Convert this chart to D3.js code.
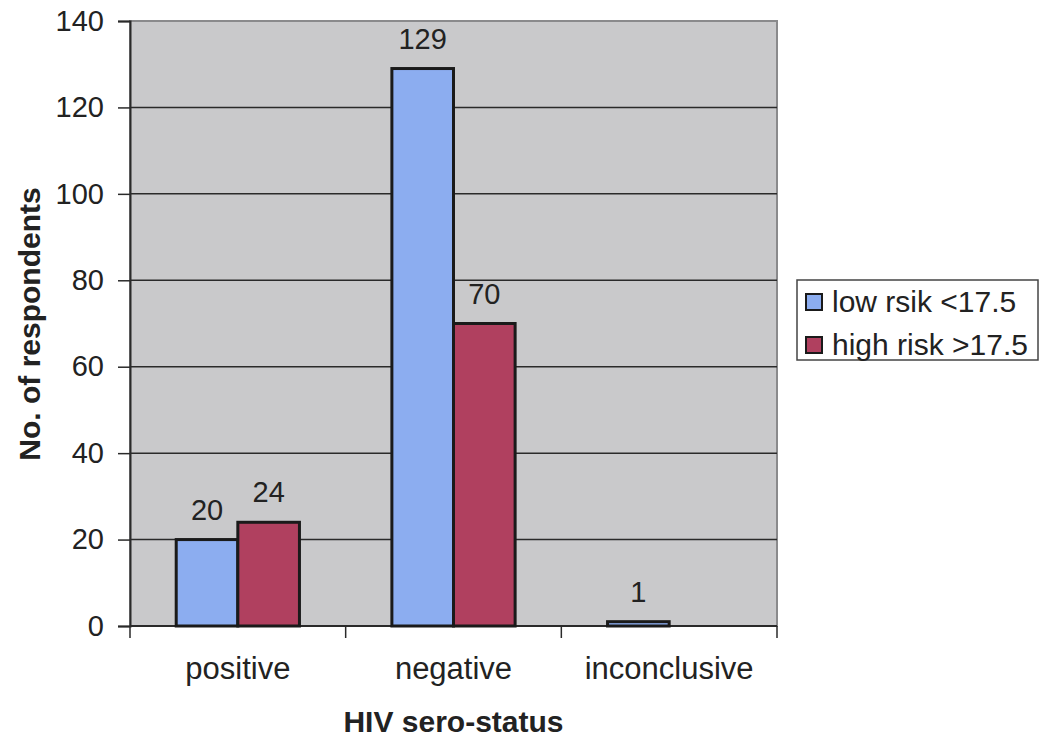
<!DOCTYPE html>
<html>
<head>
<meta charset="utf-8">
<script src="https://cdn.jsdelivr.net/npm/d3@7"></script>
<style>
  body { margin: 0; background: #ffffff; }
  svg { display: block; font-family: "Liberation Sans", Arial, sans-serif; }
</style>
</head>
<body>
<svg id="chart" width="1041" height="739"></svg>
<script>
// HIV sero-status by risk group
const categories = ["positive", "negative", "inconclusive"];
const seriesNames = ["low rsik <17.5", "high risk >17.5"];
const lowRisk = [20, 129, 1];
const highRisk = [24, 70, null];
const yTicks = [0, 20, 40, 60, 80, 100, 120, 140];
const colors = ["#8cadf0", "#b0405f"];

const svg = d3.select("#chart");
const plot = { left: 130, right: 777, top: 21, bottom: 626 };

const x = d3.scaleBand().domain(categories).range([plot.left, plot.right]).paddingInner(0).paddingOuter(0);
const barW = x.bandwidth() / 3.5; // 150% gap between groups
const y = d3.scaleLinear().domain([0, 140]).range([plot.bottom, plot.top]);

// plot background
svg.append("rect")
  .attr("x", plot.left).attr("y", plot.top)
  .attr("width", plot.right - plot.left).attr("height", plot.bottom - plot.top)
  .attr("fill", "#c9c9cb")
  .attr("stroke", "#8a8a8c").attr("stroke-width", 2);

// gridlines
svg.append("g").selectAll("line")
  .data(yTicks.filter(d => d > 0 && d < 140))
  .join("line")
  .attr("x1", plot.left).attr("x2", plot.right)
  .attr("y1", d => y(d)).attr("y2", d => y(d))
  .attr("stroke", "#2a2a2a").attr("stroke-width", 1.5);

// y axis
const yAxis = svg.append("g")
  .attr("transform", `translate(${plot.left},0)`)
  .call(d3.axisLeft(y).tickValues(yTicks).tickSize(12).tickPadding(14));
yAxis.select(".domain").attr("stroke", "#2a2a2a").attr("stroke-width", 2);
yAxis.selectAll(".tick line").attr("stroke", "#2a2a2a").attr("stroke-width", 1.5);
yAxis.selectAll(".tick text")
  .attr("font-size", 29).attr("fill", "#222")
  .attr("font-family", "Liberation Sans, Arial, sans-serif");

// x axis with ticks between categories
const xAxisG = svg.append("g");
xAxisG.append("line")
  .attr("x1", plot.left).attr("x2", plot.right)
  .attr("y1", plot.bottom).attr("y2", plot.bottom)
  .attr("stroke", "#2a2a2a").attr("stroke-width", 2);
const boundaries = categories.map(c => x(c)).concat([x(categories[categories.length - 1]) + x.bandwidth()]);
xAxisG.selectAll("line.tk").data(boundaries).join("line")
  .attr("class", "tk")
  .attr("x1", d => d).attr("x2", d => d)
  .attr("y1", plot.bottom).attr("y2", plot.bottom + 12)
  .attr("stroke", "#2a2a2a").attr("stroke-width", 1.5);
xAxisG.selectAll("text").data(categories).join("text")
  .attr("x", d => x(d) + x.bandwidth() / 2)
  .attr("y", 679)
  .attr("text-anchor", "middle")
  .attr("font-size", 31).attr("fill", "#222")
  .text(d => d);

// bars
const series = [lowRisk, highRisk];
const groupLeft = c => x(c) + (x.bandwidth() - 2 * barW) / 2;
series.forEach((vals, si) => {
  const g = svg.append("g");
  const data = categories.map((c, i) => ({ c, v: vals[i] })).filter(d => d.v !== null);
  g.selectAll("rect").data(data).join("rect")
    .attr("x", d => groupLeft(d.c) + si * barW)
    .attr("y", d => y(d.v))
    .attr("width", barW)
    .attr("height", d => y(0) - y(d.v))
    .attr("fill", colors[si])
    .attr("stroke", "#1a1a1a").attr("stroke-width", 3);
  g.selectAll("text").data(data).join("text")
    .attr("x", d => groupLeft(d.c) + si * barW + barW / 2)
    .attr("y", d => y(d.v) - 20)
    .attr("text-anchor", "middle")
    .attr("font-size", 29).attr("fill", "#222")
    .text(d => d.v);
});

// axis titles
svg.append("text")
  .attr("x", x("negative") + x.bandwidth() / 2).attr("y", 732)
  .attr("text-anchor", "middle")
  .attr("font-size", 30).attr("font-weight", "bold").attr("fill", "#222")
  .text("HIV sero-status");
svg.append("text")
  .attr("transform", "translate(40,324) rotate(-90)")
  .attr("text-anchor", "middle")
  .attr("font-size", 30).attr("font-weight", "bold").attr("fill", "#222")
  .text("No. of respondents");

// legend
const lg = svg.append("g").attr("transform", "translate(797,280)");
lg.append("rect").attr("width", 241).attr("height", 80)
  .attr("fill", "#ffffff").attr("stroke", "#444").attr("stroke-width", 1.5);
seriesNames.forEach((name, i) => {
  const row = lg.append("g").attr("transform", `translate(8,${22 + i * 43})`);
  row.append("rect").attr("x", 1).attr("y", -8).attr("width", 16).attr("height", 16)
    .attr("fill", colors[i]).attr("stroke", "#1a1a1a").attr("stroke-width", 2);
  row.append("text").attr("x", 27).attr("y", 10)
    .attr("font-size", 30).attr("fill", "#222")
    .text(name);
});
</script>
</body>
</html>
